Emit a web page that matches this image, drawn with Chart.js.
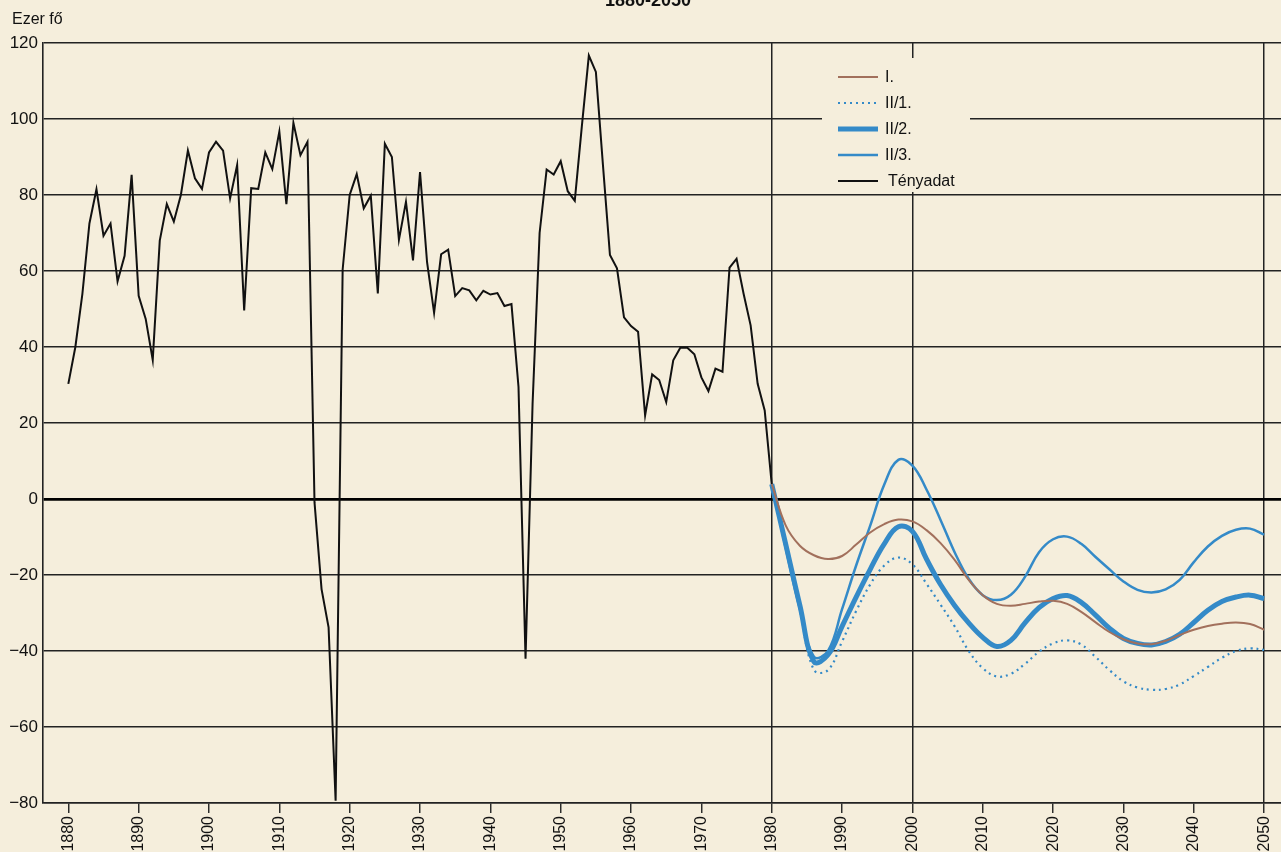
<!DOCTYPE html>
<html>
<head>
<meta charset="utf-8">
<script src="https://cdn.jsdelivr.net/npm/chart.js@4.4.1/dist/chart.umd.min.js"></script>
<style>
  html, body { margin: 0; padding: 0; background: #f5eedc; }
  canvas { display: block; }
</style>
</head>
<body>
<canvas id="plot" width="1281" height="852"></canvas>
<script>
// Tényadat, 1880-1980 (ezer fő)
const factValues = [
  30.3, 40, 54, 72.5, 81.5, 69.3, 72.5, 57.3, 64, 85.3,
  53.5, 47.4, 36.6, 68, 77.6, 73, 80, 91.7, 84.4, 81.6,
  91.2, 94, 91.7, 79.1, 87.9, 49.6, 81.8, 81.6, 91.2, 86.8,
  96.7, 77.6, 99, 90.5, 94, -0.9, -23.7, -33.8, -79.4, 60.4,
  80, 85.5, 76.5, 79.8, 54.1, 93.5, 90, 68.2, 78.2, 62.8,
  86, 62.3, 49, 64.4, 65.6, 53.4, 55.5, 54.9, 52.3, 54.8,
  53.8, 54.2, 50.8, 51.3, 29.5, -42, 25, 70, 86.7, 85.4,
  88.9, 81, 78.5, 98, 116.7, 112.4, 88, 64.2, 60.7, 47.8,
  45.5, 44, 22, 32.8, 31.3, 25.5, 36.5, 39.8, 39.8, 38.1,
  32, 28.4, 34.3, 33.5, 60.9, 63.2, 54, 45.7, 30.3, 23.3,
  3.9
];
const factYears = factValues.map((v, i) => 1880 + i);

// projections, every second year 1980-2050
const projYears = [1980, 1982, 1984, 1986, 1988, 1990, 1992, 1994, 1996, 1998,
  2000, 2002, 2004, 2006, 2008, 2010, 2012, 2014, 2016, 2018,
  2020, 2022, 2024, 2026, 2028, 2030, 2032, 2034, 2036, 2038,
  2040, 2042, 2044, 2046, 2048, 2050];
const projI = [3.9, -7, -12.3, -14.8, -15.8, -15, -12, -8.8, -6.6, -5.4,
  -5.9, -8.2, -11.6, -16, -21.3, -25.3, -27.6, -28.1, -27.6, -27,
  -26.8, -27.6, -29.7, -32.4, -35, -36.9, -38, -38.2, -37.3, -35.8,
  -34.4, -33.4, -32.8, -32.5, -32.9, -34.4];
const projII1 = [3.9, -12.5, -29, -45, -45, -37.5, -29.5, -22.5, -17.5, -15.4,
  -17.2, -22.3, -27.8, -33.5, -40, -44.5, -46.7, -46, -43.4, -40.2,
  -38, -37.2, -38.3, -41.5, -45, -48, -49.6, -50.2, -50, -48.8,
  -46.6, -44.2, -41.8, -40, -39.3, -39.7];
const projII2 = [3.9, -12, -28, -42.8, -41, -33.5, -25.8, -18.5, -11.8, -7.3,
  -8.5, -15.8, -22.5, -28, -32.6, -36.4, -38.8, -37.2, -32.6, -28.6,
  -26.2, -25.4, -27.2, -30.5, -34, -36.7, -38, -38.4, -37.5, -35.6,
  -32.5, -29.3, -27, -25.8, -25.3, -26.2];
const projII3 = [3.9, -13, -29, -41.5, -40, -29, -17.5, -7, 3.8, 10.3,
  8.8, 2.5, -5.5, -14, -21, -25.3, -26.6, -25.2, -20.5, -14,
  -10.6, -9.9, -11.8, -15.2, -18.5, -21.7, -23.9, -24.6, -23.8, -21.3,
  -16.6, -12.5, -9.7, -8.1, -7.8, -9.4];

const tickYears = [1880, 1890, 1900, 1910, 1920, 1930, 1940, 1950, 1960,
  1970, 1980, 1990, 2000, 2010, 2020, 2030, 2040, 2050];
const gridYears = [1980, 2000, 2050];

const paper = '#f5eedc';
const blue = 'rgb(52,138,200)';
const brown = 'rgb(162,112,92)';
const ink = '#222';

Chart.defaults.font.family = '"Liberation Sans", Arial, sans-serif';
Chart.defaults.color = '#111';

const pts = (xs, ys) => xs.map((x, i) => ({ x: x, y: ys[i] }));

// title, unit and the boxed legend drawn inside the plot
const paperText = {
  id: 'paperText',
  afterDraw(chart) {
    const c = chart.ctx;
    c.save();
    c.fillStyle = '#111';
    c.font = 'bold 18px "Liberation Sans", Arial, sans-serif';
    c.textAlign = 'center';
    c.textBaseline = 'alphabetic';
    c.fillText('1880-2050', 648, 6);
    c.font = '16px "Liberation Sans", Arial, sans-serif';
    c.textAlign = 'left';
    c.textBaseline = 'middle';
    c.fillText('Ezer f\u0151', 12, 20);

    // legend
    c.fillStyle = paper;
    c.fillRect(822, 58, 148, 134);
    chart.data.datasets.forEach((ds, i) => {
      const y = 77 + i * 26;
      c.beginPath();
      c.strokeStyle = ds.borderColor;
      c.lineWidth = ds.borderWidth;
      c.setLineDash(ds.borderDash || []);
      c.moveTo(838, y);
      c.lineTo(878, y);
      c.stroke();
      c.setLineDash([]);
      c.fillStyle = '#111';
      c.font = '16px "Liberation Sans", Arial, sans-serif';
      c.fillText(ds.label, ds.label === 'Tényadat' ? 888 : 885, y + 1);
    });
    c.restore();
  }
};

const config = {
  type: 'line',
  data: {
    datasets: [
      { label: 'I.', data: pts(projYears, projI), borderColor: brown, borderWidth: 2, tension: 0.4 },
      { label: 'II/1.', data: pts(projYears, projII1), borderColor: blue, borderWidth: 2.2, borderDash: [2, 4], tension: 0.4 },
      { label: 'II/2.', data: pts(projYears, projII2), borderColor: blue, borderWidth: 5, tension: 0.4 },
      { label: 'II/3.', data: pts(projYears, projII3), borderColor: blue, borderWidth: 2.5, tension: 0.4 },
      { label: 'Tényadat', data: pts(factYears, factValues), borderColor: '#111', borderWidth: 2, tension: 0 }
    ]
  },
  options: {
    responsive: false,
    animation: false,
    devicePixelRatio: 1,
    layout: { padding: { top: 43, right: 0, left: 0, bottom: 0 } },
    elements: { point: { radius: 0 } },
    plugins: {
      legend: { display: false },
      tooltip: { enabled: false }
    },
    scales: {
      x: {
        type: 'linear',
        min: 1876.4,
        max: 2052.4,
        afterBuildTicks: (s) => { s.ticks = tickYears.map(v => ({ value: v })); },
        afterFit: (s) => { s.height = 49; s.paddingLeft = 0; s.paddingRight = 0; },
        ticks: {
          autoSkip: false,
          maxRotation: 90,
          minRotation: 90,
          padding: 3,
          font: { size: 16 },
          callback: (v) => String(v)
        },
        grid: {
          color: (c) => (c.tick && gridYears.includes(c.tick.value)) ? ink : 'rgba(0,0,0,0)',
          lineWidth: 1.5,
          tickColor: ink,
          tickLength: 10,
          tickWidth: 1.4
        },
        border: { display: true, color: ink, width: 1.6 }
      },
      y: {
        min: -80,
        max: 120,
        afterFit: (s) => { s.width = 43; },
        ticks: {
          stepSize: 20,
          padding: 5,
          font: { size: 17 },
          callback: (v) => v < 0 ? '\u2212' + Math.abs(v) : String(v)
        },
        grid: {
          color: (c) => (c.tick && c.tick.value === 0) ? '#000' : ink,
          lineWidth: (c) => (c.tick && c.tick.value === 0) ? 2.8 : 1.5,
          drawTicks: false
        },
        border: { display: true, color: ink, width: 1.6 }
      }
    }
  },
  plugins: [paperText]
};

let chart;
document.addEventListener('DOMContentLoaded', () => {
  const ctx = document.getElementById('plot').getContext('2d');
  chart = new Chart(ctx, config);
});
</script>
</body>
</html>
